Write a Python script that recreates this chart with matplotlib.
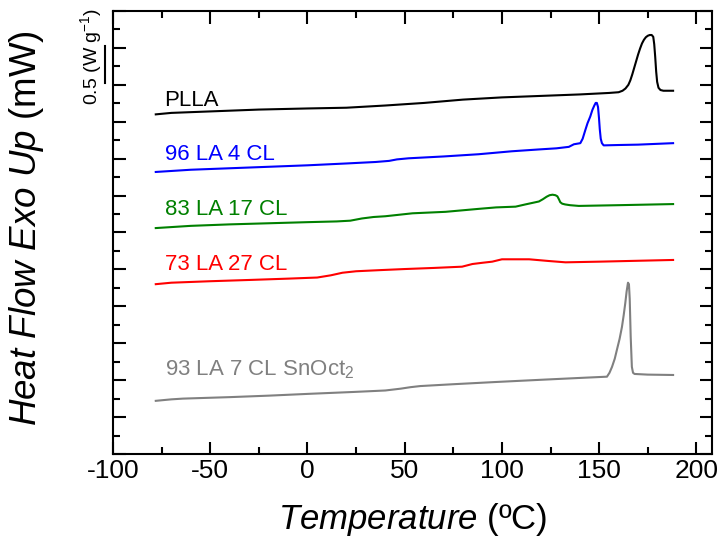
import matplotlib
matplotlib.use("Agg")
import matplotlib.pyplot as plt
from matplotlib.ticker import MultipleLocator, NullFormatter
import matplotlib.transforms as mtransforms

plt.rcParams['font.family'] = ['Liberation Sans', 'DejaVu Sans']
plt.rcParams['mathtext.fontset'] = 'custom'
plt.rcParams['mathtext.rm'] = 'Liberation Sans'
plt.rcParams['mathtext.it'] = 'Liberation Sans:italic'
plt.rcParams['axes.unicode_minus'] = False

# DSC traces, heat flow (W/g, shifted for clarity) vs temperature (C)
plla_t = [-78, -70, -50, -25, 0, 20, 40, 60, 80, 100, 120, 140, 155, 160, 162, 163.5, 165,
          166, 167, 168, 169, 170, 171, 172, 173, 174, 175, 176, 177, 177.8, 178.3, 178.8,
          179.3, 179.8, 180.5, 181.5, 183, 188]
plla_y = [4.60, 4.62, 4.64, 4.665, 4.68, 4.69, 4.72, 4.755, 4.80, 4.83, 4.85, 4.87, 4.89, 4.90, 4.92, 4.95, 5.00,
          5.06, 5.14, 5.23, 5.32, 5.41, 5.49, 5.56, 5.61, 5.645, 5.665, 5.675, 5.675, 5.65, 5.55, 5.38,
          5.18, 5.04, 4.96, 4.93, 4.92, 4.92]

la96_t = [-78, -60, -40, -20, 0, 20, 35, 42, 46, 52, 70, 88, 105, 119, 128, 134.4, 137,
          140.3, 141.5, 142.9, 144, 145.4, 146.5, 147.5, 148.2, 148.8, 149.4, 149.9, 150.3,
          150.8, 151.4, 152.3, 160, 170, 188]
la96_y = [3.82, 3.85, 3.87, 3.89, 3.91, 3.935, 3.955, 3.97, 3.99, 4.005, 4.03, 4.06, 4.10, 4.125, 4.14, 4.16, 4.195,
          4.21, 4.27, 4.39, 4.48, 4.57, 4.66, 4.72, 4.755, 4.755, 4.70, 4.55, 4.40,
          4.27, 4.21, 4.18, 4.185, 4.19, 4.21]

la83_t = [-78, -60, -40, -20, 0, 15, 22, 28, 34, 40, 54, 71, 88, 97, 107, 112, 119, 121, 123,
          124.5, 126, 127.5, 128.5, 129.3, 130, 131, 132.5, 135, 139.5, 160, 188]
la83_y = [3.06, 3.09, 3.11, 3.125, 3.14, 3.15, 3.16, 3.19, 3.21, 3.22, 3.26, 3.28, 3.32, 3.34, 3.35, 3.38, 3.42, 3.45, 3.485,
          3.505, 3.512, 3.505, 3.49, 3.45, 3.41, 3.39, 3.38, 3.37, 3.36, 3.37, 3.385]

la73_t = [-78, -70, -50, -30, -10, 5, 12, 18, 25, 37, 50, 65, 79.5, 84.8, 90, 95, 100, 114,
          124, 132.7, 150, 188]
la73_y = [2.30, 2.32, 2.34, 2.357, 2.375, 2.39, 2.42, 2.455, 2.475, 2.49, 2.505, 2.52, 2.537, 2.573, 2.59, 2.605,
          2.637, 2.637, 2.614, 2.596, 2.605, 2.628]

sn93_t = [-78, -70, -64, -40, -20, 1, 23.6, 40, 48, 53, 58, 75, 96.8, 120, 140, 154, 155.3, 156.6,
          158, 159.1, 160.5, 161.7, 162.6, 163.4, 164.1, 164.8, 165.3, 165.7, 166.2, 166.8, 167.4,
          168.2, 175, 188]
sn93_y = [0.72, 0.74, 0.75, 0.77, 0.79, 0.815, 0.84, 0.86, 0.885, 0.905, 0.92, 0.945, 0.975, 1.005, 1.03, 1.047, 1.10, 1.18,
          1.29, 1.41, 1.56, 1.72, 1.88, 2.04, 2.20, 2.32, 2.30, 2.10, 1.59, 1.18, 1.10,
          1.084, 1.075, 1.07]

labels = ['PLLA', '96 LA 4 CL', '83 LA 17 CL', '73 LA 27 CL', '93 LA 7 CL SnOct$_\\mathregular{2}$']
label_y = [4.71, 3.98, 3.24, 2.49, 1.06]
colors = ['black', '#0000ff', '#008000', '#ff0000', '#808080']

fig = plt.figure(figsize=(7.21, 5.45), dpi=100)
ax = fig.add_axes([0.1567, 0.167, 0.8308, 0.8128])

curves = [(plla_t, plla_y), (la96_t, la96_y), (la83_t, la83_y), (la73_t, la73_y), (sn93_t, sn93_y)]
for (t, y), c, lab, ly in zip(curves, colors, labels, label_y):
    ax.plot(t, y, color=c, lw=1.5, solid_joinstyle='round')
    ax.text(-73.5, ly, lab, color=c, fontsize=16, va='baseline', ha='left')

ax.set_xlim(-100, 208)
ax.set_ylim(0, 6)
ax.xaxis.set_major_locator(MultipleLocator(50))
ax.xaxis.set_minor_locator(MultipleLocator(25))
ax.yaxis.set_major_locator(MultipleLocator(0.5))
ax.yaxis.set_minor_locator(MultipleLocator(0.25))
ax.yaxis.set_major_formatter(NullFormatter())
ax.tick_params(which='both', direction='in', top=True, right=True, width=1.5)
ax.tick_params(which='major', length=9, labelsize=19)
ax.tick_params(which='minor', length=5)
for s in ax.spines.values():
    s.set_linewidth(1.5)

ax.set_xlabel('$\\it{Temperature}$ (ºC)', fontsize=25, labelpad=13)
ax.set_ylabel('$\\it{Heat\\ Flow\\ Exo\\ Up}$ (mW)', fontsize=26.5)
ax.yaxis.set_label_coords(-0.112, 0.51)

# scale bar: 0.5 W/g
trans = mtransforms.blended_transform_factory(ax.transAxes, ax.transData)
ax.plot([-0.0134, -0.0134], [5.02, 5.52], color='black', lw=1.5, transform=trans, clip_on=False)
ax.text(-0.037, 5.38, '0.5 (W g$^{-1}$)', rotation=90, fontsize=14, ha='center', va='center',
        transform=trans)

fig.savefig('out.png', dpi=100)
